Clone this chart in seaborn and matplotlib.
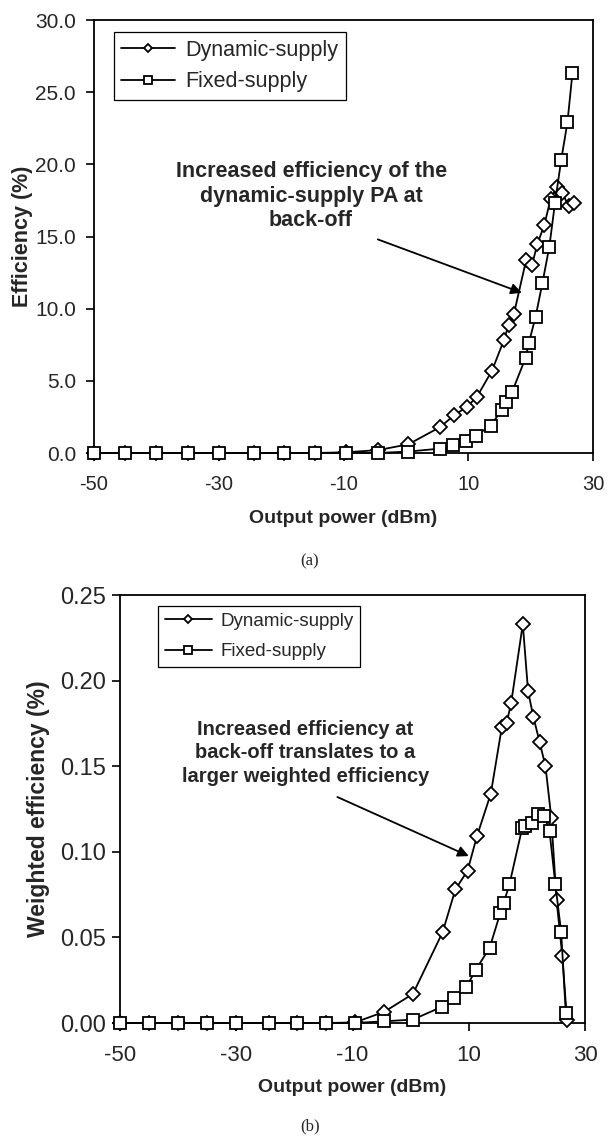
import matplotlib
matplotlib.use("Agg")
import matplotlib.pyplot as plt
import seaborn as sns
import pandas as pd
from matplotlib.ticker import FormatStrFormatter

# ---------------- data ----------------
dyn_power = [-50, -45, -40, -35, -30, -24.3, -19.5, -14.6, -9.6, -4.5, 0.4, 5.5, 7.7, 9.8,
             11.4, 13.8, 15.7, 16.5, 17.3, 19.3, 20.2, 21.1, 22.2, 23.2, 24.2, 25.1, 26.1, 26.9]
dyn_eff = [0, 0, 0, 0, 0, 0, 0, 0, 0.05, 0.2, 0.6, 1.8, 2.6, 3.2,
           3.9, 5.7, 7.8, 8.9, 9.6, 13.4, 13.0, 14.5, 15.8, 17.6, 18.4, 18.0, 17.1, 17.3]
dyn_weighted = [0, 0, 0, 0, 0, 0, 0, 0, 0.0003, 0.0066, 0.017, 0.053, 0.078, 0.089,
                0.109, 0.134, 0.173, 0.175, 0.187, 0.233, 0.194, 0.179, 0.164, 0.150, 0.120, 0.072, 0.039, 0.002]

fix_power = [-50, -45, -40, -35, -30, -24.3, -19.5, -14.6, -9.6, -4.5, 0.4, 5.4, 7.5, 9.6,
             11.2, 13.6, 15.4, 16.0, 17.0, 19.2, 19.7, 20.8, 21.9, 23.0, 23.9, 24.9, 25.9, 26.7]
fix_eff = [0, 0, 0, 0, 0, 0, 0, 0, 0, 0, 0.1, 0.3, 0.55, 0.85,
           1.2, 1.9, 3.0, 3.5, 4.2, 6.6, 7.6, 9.45, 11.8, 14.3, 17.3, 20.3, 22.9, 26.3]
fix_weighted = [0, 0, 0, 0, 0, 0, 0, 0, 0, 0.001, 0.002, 0.0095, 0.0145, 0.021,
                0.031, 0.044, 0.064, 0.070, 0.081, 0.114, 0.115, 0.117, 0.122, 0.121, 0.112, 0.081, 0.053, 0.006]

series_names = ["Dynamic-supply", "Fixed-supply"]
x_ticks = [-50, -30, -10, 10, 30]
eff_ticks = [0, 5, 10, 15, 20, 25, 30]
w_ticks = [0, 0.05, 0.10, 0.15, 0.20, 0.25]

# ---------------- style ----------------
sns.set_style("white")
plt.rcParams["font.family"] = ["Liberation Sans", "DejaVu Sans"]
plt.rcParams["axes.linewidth"] = 1.3
plt.rcParams["axes.unicode_minus"] = False

W, H = 614, 1138
fig = plt.figure(figsize=(W / 100, H / 100), dpi=100)

def ax_rect(l, r, t, b):
    return [l / W, 1 - b / H, (r - l) / W, (b - t) / H]

ax1 = fig.add_axes(ax_rect(94, 593, 20, 453))
ax2 = fig.add_axes(ax_rect(120, 585, 595, 1023))

line_kw = dict(color="black", linewidth=1.3, markerfacecolor="white",
               markeredgecolor="black", markeredgewidth=1.3, sort=False, clip_on=False)

def draw(ax, ydyn, yfix):
    d1 = pd.DataFrame({"x": dyn_power, "y": ydyn})
    d2 = pd.DataFrame({"x": fix_power, "y": yfix})
    sns.lineplot(data=d1, x="x", y="y", ax=ax, marker="D", markersize=7,
                 label=series_names[0], zorder=3, **line_kw)
    sns.lineplot(data=d2, x="x", y="y", ax=ax, marker="s", markersize=8.5,
                 label=series_names[1], zorder=4, **line_kw)

draw(ax1, dyn_eff, fix_eff)
draw(ax2, dyn_weighted, fix_weighted)

for ax, yt, ymax, fmt, xfs, yfs, ypad in [(ax1, eff_ticks, 30, "%.1f", 14.5, 15, 7),
                                          (ax2, w_ticks, 0.25, "%.2f", 16, 17, 4)]:
    ax.set_xlim(-50, 30)
    ax.set_ylim(0, ymax)
    ax.set_xticks(x_ticks)
    ax.set_yticks(yt)
    ax.yaxis.set_major_formatter(FormatStrFormatter(fmt))
    ax.tick_params(axis="both", direction="out", length=6, width=1.2,
                   color="black", left=True, bottom=True)
    ax.tick_params(axis="x", pad=10, labelsize=xfs)
    ax.tick_params(axis="y", pad=ypad, labelsize=yfs)
    for s in ax.spines.values():
        s.set_color("black")
        s.set_linewidth(1.3)
    ax.set_xlabel("Output power (dBm)", fontsize=14, fontweight="bold")

ax1.set_ylabel("Efficiency (%)", fontsize=15.5, fontweight="bold")
ax2.set_ylabel("Weighted efficiency (%)", fontsize=16.5, fontweight="bold")
ax1.yaxis.set_label_coords(-0.122, 0.5)
ax2.yaxis.set_label_coords(-0.151, 0.5)
ax1.xaxis.set_label_coords(0.5, -0.132)
ax2.xaxis.set_label_coords(0.5, -0.131)

leg_kw = dict(loc="upper left", borderaxespad=0, fancybox=False, framealpha=1,
              edgecolor="black", handlelength=2.5, markerscale=0.65,
              borderpad=0.35, handletextpad=0.45)
l1 = ax1.legend(bbox_to_anchor=(0.040, 0.972), fontsize=15.5, labelspacing=0.5, **leg_kw)
l2 = ax2.legend(bbox_to_anchor=(0.082, 0.974), fontsize=13.5, labelspacing=0.7, **leg_kw)
for lg in (l1, l2):
    lg.get_frame().set_linewidth(0.9)

arrow_kw = dict(arrowstyle="-|>", color="black", lw=1.3, mutation_scale=16,
                shrinkA=0, shrinkB=0)

ax1.text(-15.2, 17.8, "Increased efficiency of the\ndynamic-supply PA at\nback-off",
         ha="center", va="center", fontsize=15.5, fontweight="bold", linespacing=1.2)
ax1.annotate("", xy=(18.6, 11.1), xytext=(-4.5, 14.8), arrowprops=arrow_kw)

ax2.text(-18.1, 0.158, "Increased efficiency at\nback-off translates to a\nlarger weighted efficiency",
         ha="center", va="center", fontsize=14.5, fontweight="bold", linespacing=1.3)
ax2.annotate("", xy=(10.0, 0.0975), xytext=(-12.6, 0.132), arrowprops=arrow_kw)

fig.text(310 / W, 1 - 561 / H, "(a)", ha="center", va="center", fontsize=12,
         family=["Liberation Serif", "DejaVu Serif"])
fig.text(310 / W, 1 - 1126 / H, "(b)", ha="center", va="center", fontsize=12,
         family=["Liberation Serif", "DejaVu Serif"])

fig.savefig("out.png", dpi=100, facecolor="white")
